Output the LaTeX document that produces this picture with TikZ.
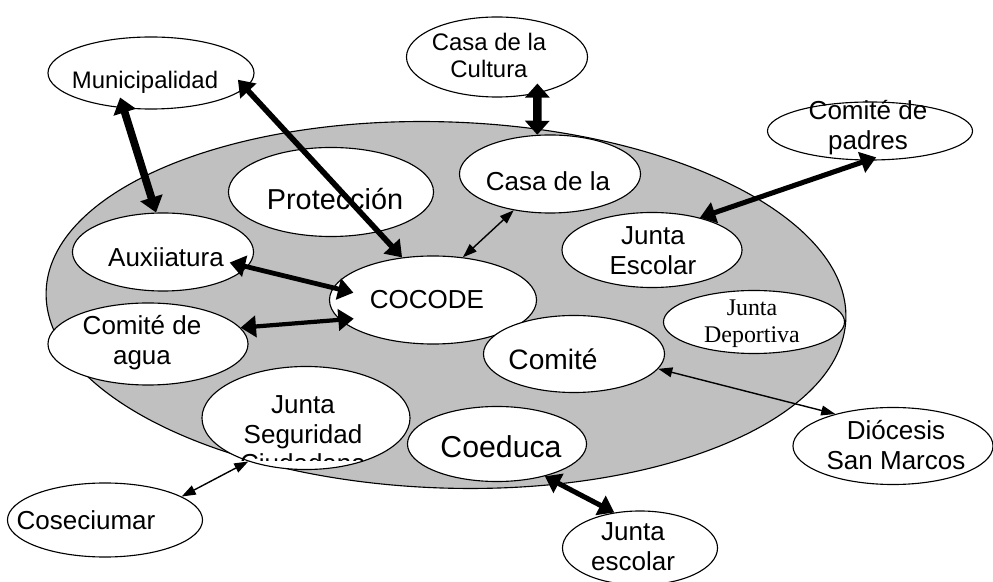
\documentclass[tikz,border=0pt]{standalone}
\usepackage{fontspec}
\setmainfont{Liberation Sans}
\newfontfamily\tiempos{Liberation Serif}
\usetikzlibrary{shapes.geometric,arrows.meta}
\definecolor{fondo}{HTML}{C0C0C0}

\begin{document}
\begin{tikzpicture}[x=0.025cm,y=-0.025cm,
  burbuja/.style={draw, ellipse, fill=white, line width=0.8pt, inner sep=0pt},
  rotulo/.style={font=\fontsize{18.5}{21.3}\selectfont, align=center, inner sep=0pt},
  grueso/.style={{Triangle[length=11pt,width=15pt]}-{Triangle[length=11pt,width=15pt]}, line width=3.4pt},
  fino/.style={{Triangle[length=10pt,width=7pt]}-{Triangle[length=10pt,width=7pt]}, line width=1pt}]
  \useasboundingbox (0,0) rectangle (993,582);

  % Draw zone
  \node[draw, ellipse, fill=fondo, line width=0.8pt, minimum width=20cm, minimum height=9.15cm, rotate=-2] (zona) at (446,305) {};

  % Draw inner bubbles
  \node[burbuja, minimum width=5.125cm, minimum height=2.225cm] (proteccion) at (331,192) {};
  \node[burbuja, minimum width=4.525cm, minimum height=1.95cm] (casa) at (550,174) {};
  \node[burbuja, minimum width=4.525cm, minimum height=1.95cm] (aux) at (163,252) {};
  \node[burbuja, minimum width=5.175cm, minimum height=2.2cm] (cocode) at (433,300) {};
  \node[burbuja, minimum width=4.5cm, minimum height=1.875cm] (escolar) at (652,250) {};
  \node[burbuja, minimum width=4.525cm, minimum height=1.575cm] (deportiva) at (754,322) {};
  \node[burbuja, minimum width=4.525cm, minimum height=1.925cm] (comite) at (574,354) {};
  \node[burbuja, minimum width=5cm, minimum height=2.05cm] (agua) at (148,344) {};
  \node[burbuja, minimum width=5.2cm, minimum height=2.575cm] (seguridad) at (306,418) {};
  \node[burbuja, minimum width=4.475cm, minimum height=1.875cm] (coeduca) at (497,444) {};

  % Draw outer bubbles
  \node[burbuja, minimum width=5.15cm, minimum height=1.8cm] (muni) at (151,73) {};
  \node[burbuja, minimum width=4.525cm, minimum height=2cm] (cultura) at (497,57) {};
  \node[burbuja, minimum width=5.125cm, minimum height=1.45cm] (padres) at (870,131) {};
  \node[burbuja, minimum width=5cm, minimum height=1.925cm] (diocesis) at (893,446) {};
  \node[burbuja, minimum width=4.875cm, minimum height=1.85cm] (coseciumar) at (105,520) {};
  \node[burbuja, minimum width=3.875cm, minimum height=1.85cm] (juntaesc) at (640,548) {};

  % Labels
  \node[rotulo, font=\fontsize{20.5}{23}\selectfont] (proteccion-t) at (335,199) {Protección};
  \node[rotulo] (casa-t) at (548,181) {Casa de la};
  \node[rotulo] (aux-t) at (166,257) {Auxiiatura};
  \node[rotulo] (cocode-t) at (427,300) {COCODE};
  \node[rotulo] (escolar-t) at (653,251) {Junta\\Escolar};
  \node[rotulo, font=\tiempos\fontsize{17}{19.2}\selectfont] (deportiva-t) at (752,324) {Junta\\Deportiva};
  \node[rotulo, font=\fontsize{20}{23}\selectfont] (comite-t) at (553,359) {Comité};
  \node[rotulo] (agua-t) at (142,343) {Comité de\\agua};
  \node[rotulo] (seguridad-t) at (303,422) {Junta\\Seguridad};
  \begin{scope}
    \clip (200,440) rectangle (420,461);
    \node[rotulo] (seguridad-t3) at (303,463) {Ciudadana};
  \end{scope}
  \node[rotulo, font=\fontsize{21.5}{24}\selectfont] (coeduca-t) at (501,447) {Coeduca};
  \node[rotulo, font=\fontsize{17}{19.2}\selectfont] (muni-t) at (145,82) {Municipalidad};
  \node[rotulo, font=\fontsize{17}{19.2}\selectfont] (cultura-t) at (489,55) {Casa de la\\Cultura};
  \node[rotulo] (padres-t) at (868,128) {Comité de\\padres};
  \node[rotulo] (diocesis-t) at (896,445) {Diócesis\\San Marcos};
  \node[rotulo] (coseciumar-t) at (86,520) {Coseciumar};
  \node[rotulo] (juntaesc-t) at (633,547) {Junta\\escolar};

  % Draw links
  \draw[grueso, line width=6pt, {Triangle[length=10pt,width=17pt]}-{Triangle[length=10pt,width=17pt]}, shorten <=-7pt] (cultura.-42) -- (casa.108);
  \draw[grueso, line width=5.5pt, {Triangle[length=11pt,width=16pt]}-{Triangle[length=11pt,width=16pt]}, shorten <=-8pt] (muni.-128) -- (aux.100);
  \draw[grueso, line width=4pt, shorten <=-8pt] (muni.-9) -- (cocode.126);
  \draw[grueso, shorten <=-13pt, shorten >=-15pt] (aux.-10) -- (cocode.173);
  \draw[grueso, line width=3pt, shorten >=-10pt] (agua.10) -- (cocode.192);
  \draw[fino] (cocode.55) -- (casa.-135);
  \draw[grueso, line width=3.6pt, shorten >=-7pt] (escolar.34) -- (padres.-96);
  \draw[fino] (comite.-10) -- (diocesis.151);
  \draw[fino] (seguridad.217) -- (coseciumar.17);
  \draw[grueso, line width=3.6pt] (coeduca.-34) -- (juntaesc.126);
\end{tikzpicture}
\end{document}
